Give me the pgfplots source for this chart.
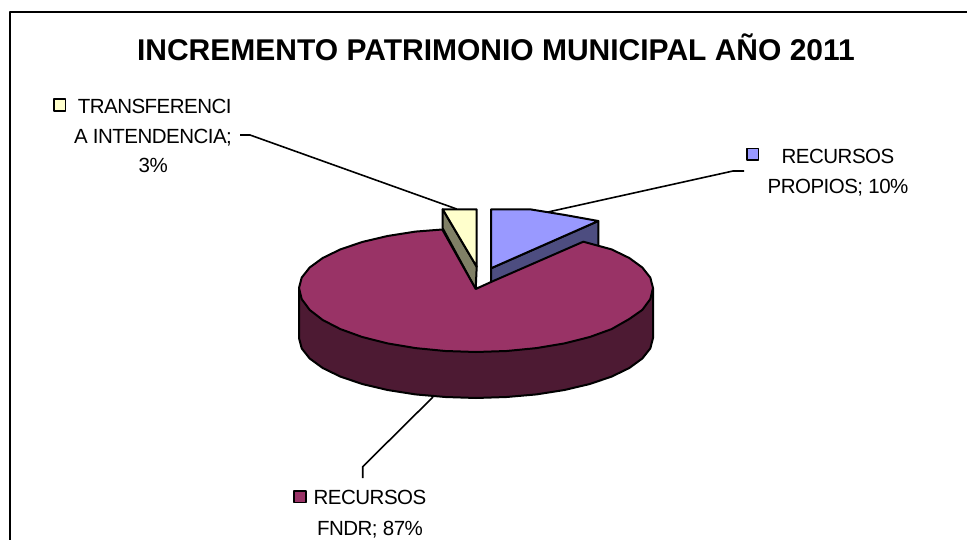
\documentclass[border=0pt]{standalone}
\usepackage{pgfplots}
\pgfplotsset{compat=1.18}
\usepackage{fontspec}
\setmainfont{Liberation Sans}
\definecolor{cmain}{HTML}{993366}
\definecolor{cmainside}{HTML}{4D1A33}
\definecolor{cblue}{HTML}{9999FF}
\definecolor{cblueside}{HTML}{4D4D80}
\definecolor{cyel}{HTML}{FFFFCC}
\definecolor{cyelside}{HTML}{808066}
\tikzset{lbl/.style={font=\fontsize{20.5}{23}\selectfont\addfontfeatures{LetterSpace=-2.5}, anchor=base, inner sep=0pt, text=black}}
\begin{document}
\begin{tikzpicture}
\useasboundingbox (0,0) rectangle (967pt,540pt);
\begin{axis}[
  anchor=south west, at={(0,0)},
  scale only axis, width=967pt, height=540pt,
  xmin=0, xmax=967, ymin=0, ymax=540, y dir=reverse,
  hide axis, clip=true,
  every axis plot/.append style={black, line width=2pt, line join=round},
]
% frame
\addplot[black, line width=2pt] coordinates {(10,540) (10,12) (967,12)};
% leaders
\addplot[black, line width=1.6pt] coordinates {(240,135) (250,135) (456.7,209)};
\addplot[black, line width=1.6pt] coordinates {(548,212) (733,171) (744,171)};
\addplot[black, line width=1.6pt] coordinates {(433,397) (362.7,466.7) (362.7,478)};
% yellow slice
\addplot[fill=cyelside] coordinates {(442.7,209.3) (476.7,266.7) (475.7,289.3) (442.7,228.3)} -- cycle;
\addplot[fill=cyel] coordinates {(442.7,209.3) (476.7,209.3) (476.7,266.7)} -- cycle;
% blue slice
\addplot[fill=cblueside] coordinates {(491,268.3) (598.3,221) (598.3,250) (491,292)} -- cycle;
\addplot[fill=cblue] coordinates {(491,209.3) (530,209.3) (565,215) (598.3,221) (491,268.3)} -- cycle;
% main side
\addplot[fill=cmainside] coordinates {(299,288) (299,338) (301.7,348.4) (309.7,358.5) (322.7,368) (340.4,376.6) (362.2,384) (387.5,390) (415.5,394.4) (445.3,397) (476,398) (506.7,397) (536.5,394.4) (564.5,390) (589.8,384) (611.6,376.6) (629.3,368) (642.3,358.5) (650.3,348.4) (653,338) (653,288)} -- cycle;
% main top
\addplot[fill=cmain] coordinates {(475.7,289) (442.3,229.5) (415.5,231.6) (387.5,236) (362.2,242) (340.4,249.4) (322.7,258) (309.7,267.5) (301.7,277.6) (299,288) (301.7,299.1) (309.7,309.9) (322.7,320) (340.4,329.1) (362.2,337) (387.5,343.4) (415.5,348.1) (445.3,351) (476,352) (506.7,351) (536.5,348.1) (564.5,343.4) (589.8,337) (611.6,329.1) (629.3,319) (642.3,309.9) (650.3,299.1) (653,288) (650.3,277.6) (642.3,267.5) (629.3,258) (611.6,249.4) (583.3,241.7) (491.7,281.7)} -- cycle;
% legend keys
\addplot[only marks, mark=square*, mark size=5.8pt, mark options={fill=cyel, draw=black, line width=1.6pt}] coordinates {(59.5,105)};
\addplot[only marks, mark=square*, mark size=5.8pt, mark options={fill=cmain, draw=black, line width=1.6pt}] coordinates {(300,496.7)};
\addplot[only marks, mark=square*, mark size=5.8pt, mark options={fill=cblue, draw=black, line width=1.6pt}] coordinates {(752.5,154.3)};
% texts
\node[anchor=base, inner sep=0pt, font=\fontsize{30}{33}\selectfont\bfseries] at (axis cs:496,60.7) {INCREMENTO PATRIMONIO MUNICIPAL AÑO 2011};
\node[lbl] at (axis cs:154.7,113.3) {TRANSFERENCI};
\node[lbl] at (axis cs:153,144) {A INTENDENCIA;};
\node[lbl] at (axis cs:153.3,173) {3\%};
\node[lbl] at (axis cs:370,504.3) {RECURSOS};
\node[lbl] at (axis cs:370,535) {FNDR; 87\%};
\node[lbl] at (axis cs:838,163.3) {RECURSOS};
\node[lbl] at (axis cs:838,193.3) {PROPIOS; 10\%};
\end{axis}
\end{tikzpicture}
\end{document}
